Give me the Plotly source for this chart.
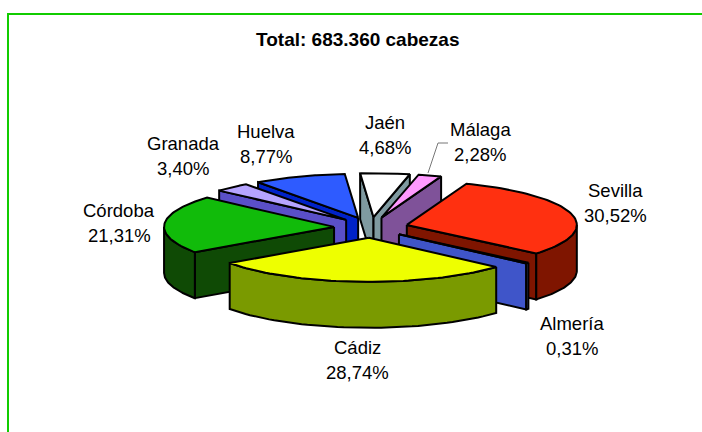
import numpy as np
import plotly.graph_objects as go

# Data
provinces = ["Almería", "Cádiz", "Córdoba", "Granada", "Huelva", "Jaén", "Málaga", "Sevilla"]
shares = [0.31, 28.74, 21.31, 3.40, 8.77, 4.68, 2.28, 30.52]
share_labels = ["0,31%", "28,74%", "21,31%", "3,40%", "8,77%", "4,68%", "2,28%", "30,52%"]
chart_title = "Total: 683.360 cabezas"

# Styles
top_colors = ["#6F86F0", "#EEFF00", "#11BB0A", "#B6A4FF", "#2E5BFF", "#FFFFFF", "#FF99FF", "#FF3010"]
wall_colors = ["#3F55C9", "#7A9A00", "#0F4A05", "#5A4FC8", "#0022C8", "#7F9AA0", "#7F5299", "#7F1500"]
draw_order = ["Jaén", "Málaga", "Huelva", "Granada", "Córdoba", "Sevilla", "Almería", "Cádiz"]
label_pos = {
    "Sevilla": (615, 190), "Almería": (572, 323), "Cádiz": (357, 347), "Córdoba": (119, 210),
    "Granada": (183, 143), "Huelva": (266, 131), "Jaén": (385, 122), "Málaga": (480, 129),
}

# Geometry of the projected 3D pie (pixels)
CX, CY, RX, RY, DEPTH, EX, EY, FIRST_ANGLE = 371, 227.5, 170, 44, 46, 37, 10.3, 130.4
INK = "#000000"

total = sum(shares)
spans = [s / total * 360 for s in shares]
starts = FIRST_ANGLE + np.concatenate([[0], np.cumsum(spans)[:-1]])


def rim(ax, ay, t):
    r = np.radians(t)
    return ax + RX * np.sin(r), ay - RY * np.cos(r)


fig = go.Figure()


def poly(xs, ys, color, width=2):
    fig.add_trace(go.Scatter(
        x=list(xs), y=list(ys), mode="lines", fill="toself", fillcolor=color,
        line=dict(color=INK, width=width, shape="linear"), hoverinfo="skip", showlegend=False,
    ))


for name in draw_order:
    i = provinces.index(name)
    t1, t2 = starts[i], starts[i] + spans[i]
    mid = np.radians((t1 + t2) / 2)
    ax, ay = CX + EX * np.sin(mid), CY - EY * np.cos(mid)
    sin1, sin2 = np.sin(np.radians(t1)), np.sin(np.radians(t2))

    # radial cut faces that look towards the viewer
    if sin1 < 0:
        ex, ey = rim(ax, ay, t1)
        poly([ax, ex, ex, ax, ax], [ay, ey, ey + DEPTH, ay + DEPTH, ay], wall_colors[i])
    if sin2 > 0:
        ex, ey = rim(ax, ay, t2)
        poly([ax, ex, ex, ax, ax], [ay, ey, ey + DEPTH, ay + DEPTH, ay], wall_colors[i])

    # outer wall: the part of the rim on the near half of the ellipse
    for k in (-1, 0, 1):
        lo, hi = max(t1, 90 + 360 * k), min(t2, 270 + 360 * k)
        if hi > lo:
            ts = np.linspace(lo, hi, 50)
            ex, ey = rim(ax, ay, ts)
            wall_color = top_colors[i] if name == "Almería" else wall_colors[i]
            poly(np.r_[ex, ex[::-1], ex[0]], np.r_[ey, ey[::-1] + DEPTH, ey[0]], wall_color)

    # top face
    ts = np.linspace(t1, t2, 60)
    ex, ey = rim(ax, ay, ts)
    poly(np.r_[ax, ex, ax], np.r_[ay, ey, ay], top_colors[i])

# Leader line for Málaga
fig.add_trace(go.Scatter(x=[428, 438, 448], y=[173, 143, 143], mode="lines",
                         line=dict(color="#777777", width=1), hoverinfo="skip", showlegend=False))

annotations = [dict(x=357, y=39, text=f"<b>{chart_title}</b>", showarrow=False,
                    font=dict(family="Liberation Sans", size=19, color="#000000"))]
for i, name in enumerate(provinces):
    lx, ly = label_pos[name]
    for text, yy in ((name, ly), (share_labels[i], ly + 25)):
        annotations.append(dict(x=lx, y=yy, text=text, showarrow=False,
                                font=dict(family="Liberation Sans", size=18.5, color="#000000")))

fig.update_layout(
    width=702, height=432, margin=dict(l=0, r=0, t=0, b=0),
    paper_bgcolor="#FFFFFF", plot_bgcolor="#FFFFFF", showlegend=False,
    xaxis=dict(range=[0, 702], visible=False, fixedrange=True),
    yaxis=dict(range=[432, 0], visible=False, fixedrange=True),
    annotations=annotations,
    shapes=[dict(type="rect", xref="x", yref="y", x0=8, y0=14, x1=730, y1=460,
                 line=dict(color="#11CC00", width=2), layer="below")],
)
fig.write_html(
    "out.html",
    config={"displayModeBar": False},
    post_script="document.body.style.margin='0';document.documentElement.style.overflow='hidden';",
)
